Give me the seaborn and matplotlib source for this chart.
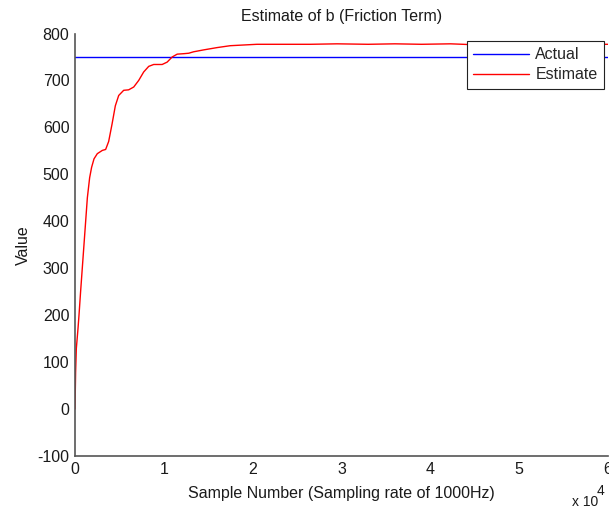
import matplotlib
matplotlib.use("Agg")
import matplotlib.pyplot as plt
import seaborn as sns
import pandas as pd

# Data
sample_numbers = [0, 70, 150, 340, 450, 630, 820, 1010, 1200, 1390, 1650, 1870, 2140, 2510,
                  3080, 3450, 3790, 4170, 4540, 4920, 5480, 6040, 6610, 7170, 7730, 8300,
                  8860, 9810, 10370, 10940, 11500, 12240, 12810, 13340, 14460, 16000, 17470,
                  20480, 23000, 26490, 29500, 33000, 36000, 39000, 42280, 45000, 48000,
                  52000, 56000, 60000]
estimate_values = [0, 79, 129, 172, 200, 250, 300, 350, 400, 450, 493, 515, 533, 544,
                   551, 553, 570, 607, 646, 668, 679, 680, 686, 700, 718, 730,
                   734, 734, 739, 750, 756, 757, 758, 761, 765, 770, 774,
                   777, 777, 777, 778, 777, 778, 777, 778, 776, 777,
                   776, 777, 777]
actual_x = [0, 60000]
actual_values = [751, 751]
x_ticks = [0, 10000, 20000, 30000, 40000, 50000, 60000]
x_tick_labels = ["0", "1", "2", "3", "4", "5", "6"]
y_ticks = [-100, 0, 100, 200, 300, 400, 500, 600, 700, 800]

sns.set_style("white")
plt.rcParams["font.family"] = ["Liberation Sans", "DejaVu Sans"]
plt.rcParams["axes.unicode_minus"] = False

FS = 11.5
TXT = "#1a1a1a"

fig = plt.figure(figsize=(6.09, 5.08), dpi=100)
ax = fig.add_axes([75 / 609, 1 - 456 / 508, 533 / 609, (456 - 33.5) / 508])

df_actual = pd.DataFrame({"x": actual_x, "y": actual_values})
df_est = pd.DataFrame({"x": sample_numbers, "y": estimate_values})
sns.lineplot(data=df_actual, x="x", y="y", ax=ax, color="#0000ff", lw=1.0, label="Actual")
sns.lineplot(data=df_est, x="x", y="y", ax=ax, color="#ff0000", lw=1.0, label="Estimate")

ax.set_xlim(0, 60000)
ax.set_ylim(-100, 800)
ax.set_xticks(x_ticks)
ax.set_xticklabels(x_tick_labels)
ax.set_yticks(y_ticks)
ax.tick_params(direction="in", length=5, width=0.8, color="#222222", labelsize=FS,
               labelcolor=TXT, pad=4)
for s in ["top", "right"]:
    ax.spines[s].set_visible(False)
for s in ["left", "bottom"]:
    ax.spines[s].set_color("#555555")
    ax.spines[s].set_linewidth(1.2)

ax.set_title("Estimate of b (Friction Term)", fontsize=FS, color=TXT, pad=9)
ax.set_xlabel("Sample Number (Sampling rate of 1000Hz)", fontsize=FS, color=TXT, labelpad=7)
ax.set_ylabel("Value", fontsize=FS, color=TXT, labelpad=5)

fig.text(572 / 609, 1 - 502 / 508, "x 10", fontsize=10, color=TXT, va="center", ha="left")
fig.text(597 / 609, 1 - 491 / 508, "4", fontsize=10, color=TXT, va="center", ha="left")

leg = ax.legend(loc="upper right", bbox_to_anchor=(604 / 609, 1 - 41 / 508),
                bbox_transform=fig.transFigure, borderaxespad=0, fancybox=False,
                framealpha=1, edgecolor="#222222", fontsize=FS, handlelength=3.5,
                borderpad=0.4, labelspacing=0.3, handletextpad=0.4)
leg.get_frame().set_linewidth(0.8)

fig.savefig("out.png", dpi=100)
